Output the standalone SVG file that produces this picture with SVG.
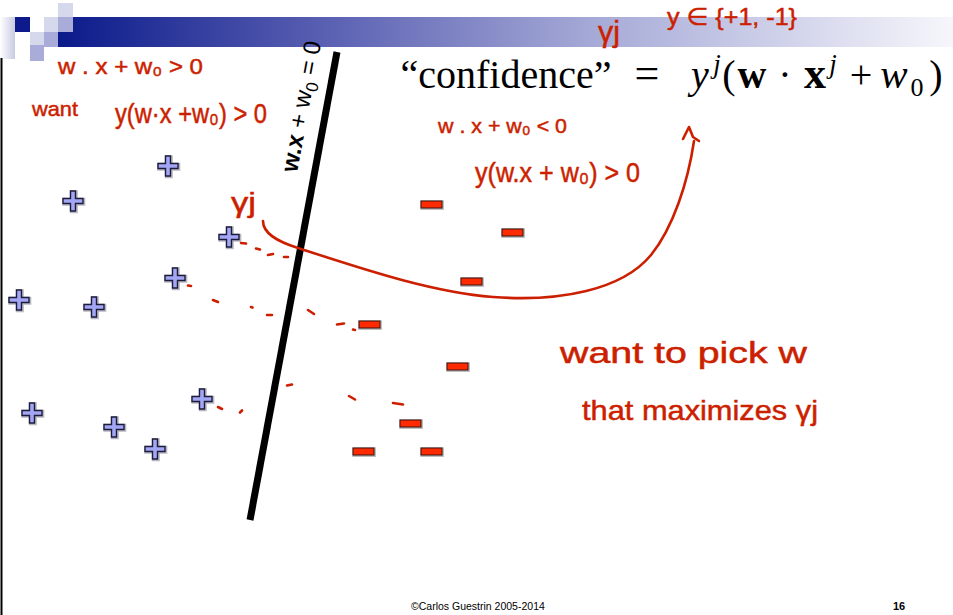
<svg xmlns="http://www.w3.org/2000/svg" width="953" height="615" viewBox="0 0 953 615">
  <defs>
    <linearGradient id="bar" x1="58" y1="0" x2="953" y2="0" gradientUnits="userSpaceOnUse">
      <stop offset="0" stop-color="#0a1a8a"/>
      <stop offset="0.3" stop-color="#5a60b2"/>
      <stop offset="0.6" stop-color="#a6aad7"/>
      <stop offset="1" stop-color="#f6f6fb"/>
    </linearGradient>
    <linearGradient id="fade" x1="0" y1="0" x2="1" y2="0">
      <stop offset="0" stop-color="#ffffff"/>
      <stop offset="1" stop-color="#c8cae4"/>
    </linearGradient>
    <path id="plus" d="M-2.5,-10 h5 v7.5 h7.5 v5 h-7.5 v7.5 h-5 v-7.5 h-7.5 v-5 h7.5 z"/>
    <rect id="minus" x="0" y="0" width="21" height="7"/>
  </defs>
  <style>
    .pl { fill: #a3a6f4; stroke: #1c1c3a; stroke-width: 1.4; }
    .pls { fill: none; stroke: #b8b8c4; stroke-width: 3; }
    .mn { fill: #ff2a00; stroke: #3a1410; stroke-width: 1; }
    .mns { fill: none; stroke: #b8b8b8; stroke-width: 2.6; }
    .ink { fill: #cc1f00; stroke: #cc1f00; stroke-width: 0.5; font-family: "Liberation Sans", "DejaVu Sans", sans-serif; }
    .inkl { fill: none; stroke: #cc1f00; stroke-width: 2.6; stroke-linecap: round; stroke-linejoin: round; }
    .cm { font-family: "Liberation Serif", "DejaVu Serif", serif; fill: #000; text-anchor: middle; }
  </style>

  <rect width="953" height="615" fill="#ffffff"/>

  <!-- header -->
  <g id="header">
    <rect x="58" y="17" width="895" height="30" fill="url(#bar)"/>
    <rect x="0" y="17" width="15" height="42" fill="url(#fade)"/>
    <rect x="15" y="17" width="15" height="15" fill="#0c1a8c"/>
    <rect x="44" y="17" width="14" height="15" fill="#d6d8ec"/>
    <rect x="58" y="3" width="15" height="14" fill="#d6d8ec"/>
    <rect x="58" y="17" width="15" height="15" fill="#a9acd8"/>
    <rect x="30" y="32" width="14" height="13" fill="#d6d8ec"/>
    <rect x="44" y="32" width="14" height="15" fill="#a9acd8"/>
    <rect x="30" y="45" width="14" height="16" fill="#a9acd8"/>
    <line x1="1.5" y1="58" x2="1.5" y2="615" stroke="#000" stroke-width="2"/>
  </g>

  <!-- formula -->
  <g id="formula">
    <text class="cm" x="506" y="88" font-size="40">“confidence”</text>
    <text class="cm" x="647" y="88" font-size="44">=</text>
    <text class="cm" x="700" y="88" font-size="40" font-style="italic">y</text>
    <text class="cm" x="717" y="73" font-size="27" font-style="italic">j</text>
    <text class="cm" x="729" y="88" font-size="40">(</text>
    <text class="cm" x="752" y="88" font-size="40" font-weight="bold">w</text>
    <text class="cm" x="785" y="88" font-size="40">·</text>
    <text class="cm" x="815" y="88" font-size="44" font-weight="bold">x</text>
    <text class="cm" x="833" y="73" font-size="27" font-style="italic">j</text>
    <text class="cm" x="861" y="88" font-size="40">+</text>
    <text class="cm" x="894" y="88" font-size="41" font-style="italic">w</text>
    <text class="cm" x="917" y="96" font-size="26">0</text>
    <text class="cm" x="936" y="88" font-size="40">)</text>
  </g>

  <!-- separating line -->
  <g id="boundary">
    <line x1="337" y1="52" x2="250" y2="520" stroke="#000" stroke-width="7"/>
    <text x="297" y="173" transform="rotate(-79.5 297 173)" font-family="Liberation Sans, Arial, sans-serif" font-size="24" fill="#000"><tspan font-weight="bold">w.x</tspan> + w<tspan font-size="17" dy="5">0</tspan><tspan dy="-5"> = 0</tspan></text>
  </g>

  <!-- positive points -->
  <g id="positives">
    <g id="p1" transform="translate(168,166)"><use href="#plus" class="pls" x="0.8" y="0.8"/><use href="#plus" class="pl"/></g>
    <g id="p2" transform="translate(73,201)"><use href="#plus" class="pls" x="0.8" y="0.8"/><use href="#plus" class="pl"/></g>
    <g id="p3" transform="translate(229,237)"><use href="#plus" class="pls" x="0.8" y="0.8"/><use href="#plus" class="pl"/></g>
    <g id="p4" transform="translate(175,278)"><use href="#plus" class="pls" x="0.8" y="0.8"/><use href="#plus" class="pl"/></g>
    <g id="p5" transform="translate(19,300)"><use href="#plus" class="pls" x="0.8" y="0.8"/><use href="#plus" class="pl"/></g>
    <g id="p6" transform="translate(94,307)"><use href="#plus" class="pls" x="0.8" y="0.8"/><use href="#plus" class="pl"/></g>
    <g id="p7" transform="translate(202,399)"><use href="#plus" class="pls" x="0.8" y="0.8"/><use href="#plus" class="pl"/></g>
    <g id="p8" transform="translate(32,413)"><use href="#plus" class="pls" x="0.8" y="0.8"/><use href="#plus" class="pl"/></g>
    <g id="p9" transform="translate(114,427)"><use href="#plus" class="pls" x="0.8" y="0.8"/><use href="#plus" class="pl"/></g>
    <g id="p10" transform="translate(155,449)"><use href="#plus" class="pls" x="0.8" y="0.8"/><use href="#plus" class="pl"/></g>
  </g>

  <!-- negative points -->
  <g id="negatives">
    <g id="n1" transform="translate(421,201)"><use href="#minus" class="mns" x="0.6" y="0.6"/><use href="#minus" class="mn"/></g>
    <g id="n2" transform="translate(502,229)"><use href="#minus" class="mns" x="0.6" y="0.6"/><use href="#minus" class="mn"/></g>
    <g id="n3" transform="translate(461,278)"><use href="#minus" class="mns" x="0.6" y="0.6"/><use href="#minus" class="mn"/></g>
    <g id="n4" transform="translate(359,321)"><use href="#minus" class="mns" x="0.6" y="0.6"/><use href="#minus" class="mn"/></g>
    <g id="n5" transform="translate(447,363)"><use href="#minus" class="mns" x="0.6" y="0.6"/><use href="#minus" class="mn"/></g>
    <g id="n6" transform="translate(400,420)"><use href="#minus" class="mns" x="0.6" y="0.6"/><use href="#minus" class="mn"/></g>
    <g id="n7" transform="translate(353,448)"><use href="#minus" class="mns" x="0.6" y="0.6"/><use href="#minus" class="mn"/></g>
    <g id="n8" transform="translate(421,448)"><use href="#minus" class="mns" x="0.6" y="0.6"/><use href="#minus" class="mn"/></g>
  </g>

  <!-- connectors: handwritten curve and dashed distances -->
  <g id="connectors">
    <path class="inkl" d="M263,221 C263,233 276,241 298,248 C360,268 430,292 493,297 C560,302 622,290 651,255 C673,228 688,182 694,141"/>
    <path class="inkl" d="M683,139 L689,127 L693,137 L699,141"/>
    <path class="inkl" d="M241,243 l5,0.5 M256,248.5 l4,1 M268,255 l5,-1 M284,257 l4,0"/>
    <path class="inkl" d="M188,285.5 l3,0.5 M213,300 l5,2 M251,307 l1.5,0.5 M267,315 l5,0 M308,310 l6,4 M337,324.5 l7,-1 M353,329.5 l2,0.5"/>
    <path class="inkl" d="M218,407 l4,2 M240,412.5 l2,-2 M287,385.5 l5,-1 M349,396 l6,3.5 M393,403 l10,1.5"/>
  </g>

  <!-- handwritten annotations -->
  <g id="annotations">
    <text class="ink" x="58" y="74" font-size="22" textLength="145" lengthAdjust="spacingAndGlyphs">w . x + w₀ &gt; 0</text>
    <text class="ink" x="32" y="116" font-size="21" textLength="46" lengthAdjust="spacingAndGlyphs">want</text>
    <text class="ink" x="115" y="123" font-size="27" textLength="152" lengthAdjust="spacingAndGlyphs">y(w·x +w₀) &gt; 0</text>
    <text class="ink" x="598" y="42" font-size="30" textLength="22" lengthAdjust="spacingAndGlyphs">γj</text>
    <text class="ink" x="667" y="25" font-size="24" textLength="130" lengthAdjust="spacingAndGlyphs">y ∈ {+1, -1}</text>
    <text class="ink" x="438" y="133" font-size="21" textLength="129" lengthAdjust="spacingAndGlyphs">w . x + w₀ &lt; 0</text>
    <text class="ink" x="475" y="182" font-size="28" textLength="165" lengthAdjust="spacingAndGlyphs">y(w.x + w₀) &gt; 0</text>
    <text class="ink" x="231" y="212" font-size="28" textLength="25" lengthAdjust="spacingAndGlyphs">γj</text>
    <text class="ink" x="560" y="363" font-size="30" textLength="247" lengthAdjust="spacingAndGlyphs">want to pick w</text>
    <text class="ink" x="582" y="420" font-size="28" textLength="236" lengthAdjust="spacingAndGlyphs">that maximizes γj</text>
  </g>

  <!-- footer -->
  <g id="footer">
    <text x="411" y="610" font-family="Liberation Sans, Arial, sans-serif" font-size="10.5" fill="#000">©Carlos Guestrin 2005-2014</text>
    <text x="893" y="610" font-family="Liberation Sans, Arial, sans-serif" font-size="11" font-weight="bold" fill="#000">16</text>
  </g>
</svg>
